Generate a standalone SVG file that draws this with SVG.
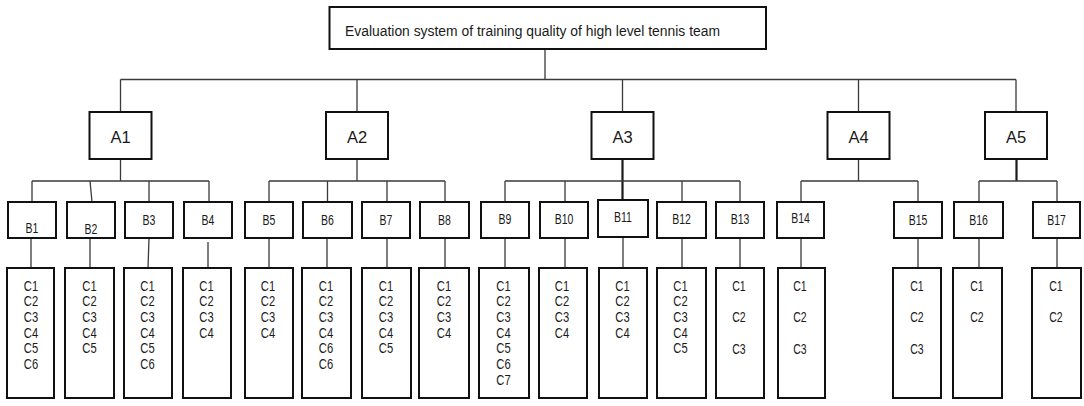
<svg xmlns="http://www.w3.org/2000/svg" width="1084" height="406" viewBox="0 0 1084 406">
<style>
.box{fill:#fff;stroke:#111;stroke-width:2}
.ln{fill:none;stroke:#3a3a3a;stroke-width:1.3}
.thk{fill:none;stroke:#1a1a1a;stroke-width:2.2}
text{font-family:"Liberation Sans",Arial,sans-serif;fill:#1a1a1a}
.tt{font-size:14px}
.al{font-size:16.5px;text-anchor:middle}
.bl{font-size:14px;text-anchor:middle}
.cl{font-size:14px;text-anchor:middle}
.cr{font-size:15px;text-anchor:middle}
</style>
<rect width="1084" height="406" fill="#fff"/>
<g id="connectors">
<path class="ln" d="M545 49V79.5M120.5 79.5H1016M120.5 79.5V112M357 79.5V112M622.5 79.5V112M858.5 79.5V112M1016 79.5V112"/>
<path class="ln" d="M120.5 159V181M32 181H209M32 181V202M90 181L92 202M149 181V202M209 181V202"/>
<path class="ln" d="M357 159V181M269 181H445M269 181V202M327.5 181V202M387 181V202M445 181V202"/>
<path class="thk" d="M622.5 159V200"/>
<path class="ln" d="M505 181H740M505 181V202M565 181V202M682 181V202M740 181V202"/>
<path class="ln" d="M858.5 159V181M801 181H918M801 181V202M918 181V202"/>
<path class="thk" d="M1016.5 159V181"/>
<path class="ln" d="M979 181H1057M979 181V202M1057 181V202"/>
<path class="ln" d="M31 238V268M90 238V268M149 238L148 268M208 242V268M269 238V268M327 238V268M387 238V268M445 238V268M505 238V268M565 238V268M623 237V268M682 238V268M740 238V268M801 238V268M918 238V268M979 238V268M1057 238V268"/>
</g>
<g id="title"><rect class="box" x="329.5" y="7" width="436.5" height="42"/><text class="tt" x="345" y="36" textLength="375" lengthAdjust="spacingAndGlyphs">Evaluation system of training quality of high level tennis team</text></g>
<g id="A1"><rect class="box" x="89.5" y="112" width="62" height="47"/><text class="al" x="120.5" y="143">A1</text></g>
<g id="A2"><rect class="box" x="326" y="112" width="62" height="47"/><text class="al" x="357" y="143">A2</text></g>
<g id="A3"><rect class="box" x="591.5" y="112" width="62" height="47"/><text class="al" x="622.5" y="143">A3</text></g>
<g id="A4"><rect class="box" x="827.5" y="112" width="62" height="47"/><text class="al" x="858.5" y="143">A4</text></g>
<g id="A5"><rect class="box" x="985" y="112" width="62" height="47"/><text class="al" x="1016" y="143">A5</text></g>
<g id="B1"><rect class="box" x="8" y="202" width="48" height="36"/><text class="bl" transform="translate(32,233) scale(0.75,1)">B1</text></g>
<g id="B2"><rect class="box" x="67" y="202" width="48" height="36"/><text class="bl" transform="translate(91,234) scale(0.75,1)">B2</text></g>
<g id="B3"><rect class="box" x="125" y="202" width="48" height="36"/><text class="bl" transform="translate(149,225) scale(0.75,1)">B3</text></g>
<g id="B4"><rect class="box" x="184" y="202" width="48" height="36"/><text class="bl" transform="translate(208,225) scale(0.75,1)">B4</text></g>
<g id="B5"><rect class="box" x="245" y="202" width="48" height="36"/><text class="bl" transform="translate(269,225) scale(0.75,1)">B5</text></g>
<g id="B6"><rect class="box" x="303" y="202" width="49" height="36"/><text class="bl" transform="translate(327.5,225) scale(0.75,1)">B6</text></g>
<g id="B7"><rect class="box" x="362" y="202" width="48" height="36"/><text class="bl" transform="translate(386,225) scale(0.75,1)">B7</text></g>
<g id="B8"><rect class="box" x="420" y="202" width="49" height="36"/><text class="bl" transform="translate(444.5,225) scale(0.75,1)">B8</text></g>
<g id="B9"><rect class="box" x="481" y="202" width="48" height="36"/><text class="bl" transform="translate(505,224) scale(0.75,1)">B9</text></g>
<g id="B10"><rect class="box" x="540" y="202" width="48" height="36"/><text class="bl" transform="translate(564,224) scale(0.75,1)">B10</text></g>
<g id="B11"><rect class="box" x="598" y="200" width="50" height="37"/><text class="bl" transform="translate(623,222) scale(0.75,1)">B11</text></g>
<g id="B12"><rect class="box" x="657" y="202" width="49" height="36"/><text class="bl" transform="translate(681.5,224) scale(0.75,1)">B12</text></g>
<g id="B13"><rect class="box" x="716" y="202" width="48" height="36"/><text class="bl" transform="translate(740,224) scale(0.75,1)">B13</text></g>
<g id="B14"><rect class="box" x="777" y="202" width="47" height="36"/><text class="bl" transform="translate(800.5,223) scale(0.75,1)">B14</text></g>
<g id="B15"><rect class="box" x="894" y="202" width="48" height="36"/><text class="bl" transform="translate(918,225) scale(0.75,1)">B15</text></g>
<g id="B16"><rect class="box" x="954" y="202" width="49" height="36"/><text class="bl" transform="translate(978.5,225) scale(0.75,1)">B16</text></g>
<g id="B17"><rect class="box" x="1033" y="202" width="47" height="36"/><text class="bl" transform="translate(1056.5,225) scale(0.75,1)">B17</text></g>
<g id="C-B1"><rect class="box" x="7" y="268" width="47" height="130"/><text class="cl" transform="translate(31,290.5) scale(0.8,1)"><tspan x="0" y="0">C1</tspan><tspan x="0" y="15.75">C2</tspan><tspan x="0" y="31.5">C3</tspan><tspan x="0" y="47.25">C4</tspan><tspan x="0" y="63">C5</tspan><tspan x="0" y="78.75">C6</tspan></text></g>
<g id="C-B2"><rect class="box" x="65" y="268" width="49" height="130"/><text class="cl" transform="translate(89.5,290.5) scale(0.8,1)"><tspan x="0" y="0">C1</tspan><tspan x="0" y="15.75">C2</tspan><tspan x="0" y="31.5">C3</tspan><tspan x="0" y="47.25">C4</tspan><tspan x="0" y="63">C5</tspan></text></g>
<g id="C-B3"><rect class="box" x="124" y="268" width="48" height="130"/><text class="cl" transform="translate(147.5,290.5) scale(0.8,1)"><tspan x="0" y="0">C1</tspan><tspan x="0" y="15.75">C2</tspan><tspan x="0" y="31.5">C3</tspan><tspan x="0" y="47.25">C4</tspan><tspan x="0" y="63">C5</tspan><tspan x="0" y="78.75">C6</tspan></text></g>
<g id="C-B4"><rect class="box" x="183" y="268" width="48" height="130"/><text class="cl" transform="translate(206.5,290.5) scale(0.8,1)"><tspan x="0" y="0">C1</tspan><tspan x="0" y="15.75">C2</tspan><tspan x="0" y="31.5">C3</tspan><tspan x="0" y="47.25">C4</tspan></text></g>
<g id="C-B5"><rect class="box" x="245" y="268" width="48" height="130"/><text class="cl" transform="translate(268,290.5) scale(0.8,1)"><tspan x="0" y="0">C1</tspan><tspan x="0" y="15.75">C2</tspan><tspan x="0" y="31.5">C3</tspan><tspan x="0" y="47.25">C4</tspan></text></g>
<g id="C-B6"><rect class="box" x="302" y="268" width="49" height="130"/><text class="cl" transform="translate(326,290.5) scale(0.8,1)"><tspan x="0" y="0">C1</tspan><tspan x="0" y="15.75">C2</tspan><tspan x="0" y="31.5">C3</tspan><tspan x="0" y="47.25">C4</tspan><tspan x="0" y="63">C6</tspan><tspan x="0" y="78.75">C6</tspan></text></g>
<g id="C-B7"><rect class="box" x="362" y="268" width="49" height="130"/><text class="cl" transform="translate(386,290.5) scale(0.8,1)"><tspan x="0" y="0">C1</tspan><tspan x="0" y="15.75">C2</tspan><tspan x="0" y="31.5">C3</tspan><tspan x="0" y="47.25">C4</tspan><tspan x="0" y="63">C5</tspan></text></g>
<g id="C-B8"><rect class="box" x="419" y="268" width="50" height="130"/><text class="cl" transform="translate(444,290.5) scale(0.8,1)"><tspan x="0" y="0">C1</tspan><tspan x="0" y="15.75">C2</tspan><tspan x="0" y="31.5">C3</tspan><tspan x="0" y="47.25">C4</tspan></text></g>
<g id="C-B9"><rect class="box" x="479" y="268" width="50" height="130"/><text class="cl" transform="translate(503.5,290.5) scale(0.8,1)"><tspan x="0" y="0">C1</tspan><tspan x="0" y="15.75">C2</tspan><tspan x="0" y="31.5">C3</tspan><tspan x="0" y="47.25">C4</tspan><tspan x="0" y="63">C5</tspan><tspan x="0" y="78.75">C6</tspan><tspan x="0" y="94.5">C7</tspan></text></g>
<g id="C-B10"><rect class="box" x="539" y="268" width="48" height="130"/><text class="cl" transform="translate(562,290.5) scale(0.8,1)"><tspan x="0" y="0">C1</tspan><tspan x="0" y="15.75">C2</tspan><tspan x="0" y="31.5">C3</tspan><tspan x="0" y="47.25">C4</tspan></text></g>
<g id="C-B11"><rect class="box" x="599" y="268" width="48" height="130"/><text class="cl" transform="translate(622.5,290.5) scale(0.8,1)"><tspan x="0" y="0">C1</tspan><tspan x="0" y="15.75">C2</tspan><tspan x="0" y="31.5">C3</tspan><tspan x="0" y="47.25">C4</tspan></text></g>
<g id="C-B12"><rect class="box" x="657" y="268" width="49" height="130"/><text class="cl" transform="translate(680.5,290.5) scale(0.8,1)"><tspan x="0" y="0">C1</tspan><tspan x="0" y="15.75">C2</tspan><tspan x="0" y="31.5">C3</tspan><tspan x="0" y="47.25">C4</tspan><tspan x="0" y="63">C5</tspan></text></g>
<g id="C-B13"><rect class="box" x="716" y="268" width="48" height="130"/><text class="cr" transform="translate(739,291) scale(0.7,1)"><tspan x="0" y="0">C1</tspan><tspan x="0" y="31.5">C2</tspan><tspan x="0" y="63">C3</tspan></text></g>
<g id="C-B14"><rect class="box" x="778" y="268" width="47" height="130"/><text class="cr" transform="translate(800,291) scale(0.7,1)"><tspan x="0" y="0">C1</tspan><tspan x="0" y="31.5">C2</tspan><tspan x="0" y="63">C3</tspan></text></g>
<g id="C-B15"><rect class="box" x="893" y="268" width="48" height="130"/><text class="cr" transform="translate(917,291) scale(0.7,1)"><tspan x="0" y="0">C1</tspan><tspan x="0" y="31.5">C2</tspan><tspan x="0" y="63">C3</tspan></text></g>
<g id="C-B16"><rect class="box" x="953" y="268" width="49" height="130"/><text class="cr" transform="translate(977,291) scale(0.7,1)"><tspan x="0" y="0">C1</tspan><tspan x="0" y="31.5">C2</tspan></text></g>
<g id="C-B17"><rect class="box" x="1032" y="268" width="49" height="130"/><text class="cr" transform="translate(1056,291) scale(0.7,1)"><tspan x="0" y="0">C1</tspan><tspan x="0" y="31.5">C2</tspan></text></g>
</svg>
